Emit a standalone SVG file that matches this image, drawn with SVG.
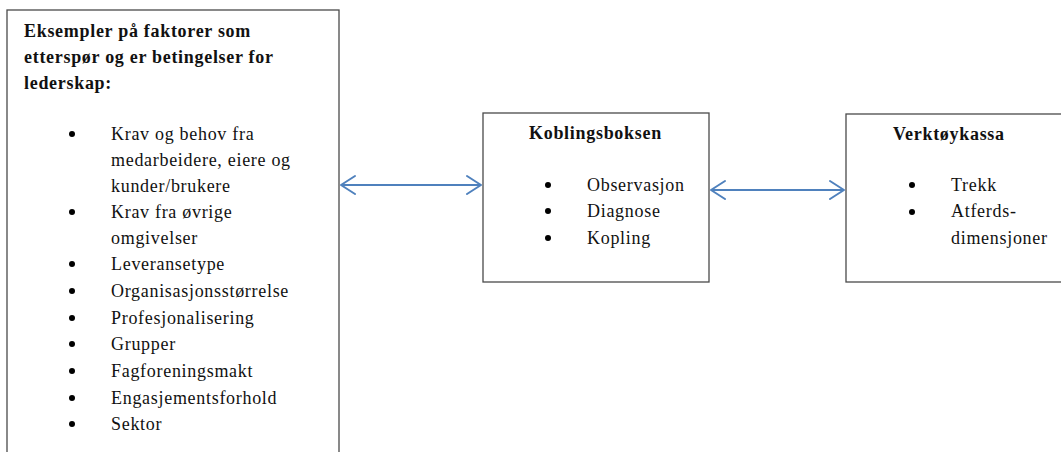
<svg xmlns="http://www.w3.org/2000/svg" width="1061" height="452" viewBox="0 0 1061 452">
<style>
.box{fill:#fff;stroke:#4a4a4a;stroke-width:1.3}
.t{font-family:"Liberation Serif","Times New Roman",serif;font-size:18px;letter-spacing:0.7px;fill:#111}
.b{font-weight:bold}
.bl{fill:#000}
.c{fill:none;stroke:#4f81bd;stroke-width:2}
.h{fill:none;stroke:#4f81bd;stroke-width:2;stroke-linecap:round;stroke-linejoin:round}
</style>
<rect width="1061" height="452" fill="#fff"/>
<g id="node-faktorer">
<rect class="box" x="7" y="10" width="332" height="460"/>
<text class="t b" x="24" y="37">Eksempler på faktorer som</text>
<text class="t b" x="24" y="63">etterspør og er betingelser for</text>
<text class="t b" x="24" y="89">lederskap:</text>
<g class="bl">
<circle cx="72" cy="134" r="3"/><circle cx="72" cy="212" r="3"/><circle cx="72" cy="264" r="3"/><circle cx="72" cy="291" r="3"/><circle cx="72" cy="318" r="3"/><circle cx="72" cy="344" r="3"/><circle cx="72" cy="371" r="3"/><circle cx="72" cy="398" r="3"/><circle cx="72" cy="424" r="3"/>
</g>
<text class="t" x="111" y="140">Krav og behov fra</text>
<text class="t" x="111" y="166">medarbeidere, eiere og</text>
<text class="t" x="111" y="192">kunder/brukere</text>
<text class="t" x="111" y="218">Krav fra øvrige</text>
<text class="t" x="111" y="244">omgivelser</text>
<text class="t" x="111" y="270">Leveransetype</text>
<text class="t" x="111" y="297">Organisasjonsstørrelse</text>
<text class="t" x="111" y="324">Profesjonalisering</text>
<text class="t" x="111" y="350">Grupper</text>
<text class="t" x="111" y="377">Fagforeningsmakt</text>
<text class="t" x="111" y="404">Engasjementsforhold</text>
<text class="t" x="111" y="430">Sektor</text>
</g>
<g id="node-koblingsboksen">
<rect class="box" x="483" y="113" width="226" height="169"/>
<text class="t b" x="529" y="139">Koblingsboksen</text>
<g class="bl"><circle cx="548" cy="185" r="3"/><circle cx="548" cy="211" r="3"/><circle cx="548" cy="238" r="3"/></g>
<text class="t" x="587" y="191">Observasjon</text>
<text class="t" x="587" y="217">Diagnose</text>
<text class="t" x="587" y="244">Kopling</text>
</g>
<g id="node-verktoykassa">
<rect class="box" x="846" y="114" width="230" height="168"/>
<text class="t b" x="893" y="140">Verktøykassa</text>
<g class="bl"><circle cx="912" cy="185" r="3"/><circle cx="912" cy="212" r="3"/></g>
<text class="t" x="951" y="191">Trekk</text>
<text class="t" x="951" y="217">Atferds-</text>
<text class="t" x="951" y="244">dimensjoner</text>
</g>
<g id="connectors">
<line class="c" x1="341" y1="185" x2="481" y2="185"/>
<polyline class="h" points="355,176 341,185 355,194"/>
<polyline class="h" points="467,176 481,185 467,194"/>
<line class="c" x1="711" y1="190" x2="844" y2="190"/>
<polyline class="h" points="725,181 711,190 725,199"/>
<polyline class="h" points="830,181 844,190 830,199"/>
</g>
</svg>
